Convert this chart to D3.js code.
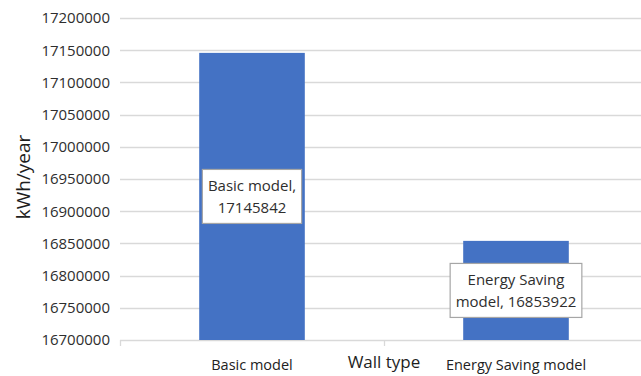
<!DOCTYPE html>
<html>
<head>
<meta charset="utf-8">
<script src="https://cdn.jsdelivr.net/npm/d3@7"></script>
<style>
  html, body { margin: 0; padding: 0; background: #fff; }
  svg { display: block; font-family: "Open Sans", "Liberation Sans", sans-serif; }
</style>
</head>
<body>
<svg id="chart" width="641" height="376"></svg>
<script>
// Annual energy use for the two wall types
const categories = ["Basic model", "Energy Saving model"];
const values = [17145842, 16853922];
const yTicks = [16700000, 16750000, 16800000, 16850000, 16900000, 16950000,
                17000000, 17050000, 17100000, 17150000, 17200000];
const yTitle = "kWh/year";
const xTitle = "Wall type";

const svg = d3.select("#chart");
const plot = { left: 120, right: 648, top: 18, bottom: 340 };

const x = d3.scaleBand()
  .domain(categories)
  .range([plot.left, plot.right])
  .paddingInner(0.6)
  .paddingOuter(0.3);

const y = d3.scaleLinear()
  .domain([yTicks[0], yTicks[yTicks.length - 1]])
  .range([plot.bottom, plot.top]);

const textColor = "#2e2e2e";
const gridColor = "#d9d9d9";

// horizontal gridlines
svg.append("g")
  .selectAll("line")
  .data(yTicks)
  .join("line")
  .attr("x1", plot.left)
  .attr("x2", plot.right)
  .attr("y1", d => Math.round(y(d)) + 0.5)
  .attr("y2", d => Math.round(y(d)) + 0.5)
  .attr("stroke", gridColor)
  .attr("stroke-width", 1.3);

// y axis labels
const yAxis = d3.axisLeft(y).tickValues(yTicks).tickSize(0).tickPadding(10)
  .tickFormat(d3.format("d"));
const gy = svg.append("g")
  .attr("transform", `translate(${plot.left},0)`)
  .call(yAxis);
gy.select(".domain").remove();
gy.selectAll("text")
  .attr("fill", textColor)
  .style("font-size", "15px")
  .style("font-weight", "500")
  .style("font-family", "'Open Sans', sans-serif");

// x axis: tick marks at the category boundaries
const tickXs = d3.range(categories.length + 1).map(i => plot.left + i * x.step());
svg.append("g")
  .selectAll("line")
  .data(tickXs)
  .join("line")
  .attr("x1", d => Math.round(d) + 0.5)
  .attr("x2", d => Math.round(d) + 0.5)
  .attr("y1", plot.bottom)
  .attr("y2", plot.bottom + 6)
  .attr("stroke", gridColor)
  .attr("stroke-width", 1.3);

// bars
svg.append("g")
  .selectAll("rect")
  .data(categories)
  .join("rect")
  .attr("x", d => x(d))
  .attr("width", x.bandwidth())
  .attr("y", (d, i) => y(values[i]))
  .attr("height", (d, i) => y(yTicks[0]) - y(values[i]))
  .attr("fill", "#4472C4");

// category labels
svg.append("g")
  .selectAll("text")
  .data(categories)
  .join("text")
  .attr("x", d => x(d) + x.bandwidth() / 2)
  .attr("y", 370)
  .attr("text-anchor", "middle")
  .attr("fill", "#222")
  .style("font-size", "14.5px")
  .style("font-weight", "500")
  .text(d => d);

// axis titles
svg.append("text")
  .attr("x", (plot.left + plot.right) / 2)
  .attr("y", 368)
  .attr("text-anchor", "middle")
  .attr("fill", "#1e1e1e")
  .style("font-size", "17px")
  .style("font-weight", "500")
  .text(xTitle);

svg.append("text")
  .attr("transform", `translate(30,${(plot.top + plot.bottom) / 2 - 2}) rotate(-90)`)
  .attr("text-anchor", "middle")
  .attr("fill", "#1e1e1e")
  .style("font-size", "19px")
  .style("font-weight", "500")
  .text(yTitle);

// data labels: white callout boxes centred on each bar
const labelLines = [
  [categories[0] + ",", String(values[0])],
  ["Energy Saving", "model, " + values[1]]
];
const lineGap = 22;
categories.forEach((c, i) => {
  const cx = x(c) + x.bandwidth() / 2;
  const cy = (y(values[i]) + y(yTicks[0])) / 2;
  const g = svg.append("g");
  const box = g.append("rect");
  const t = g.append("text")
    .attr("text-anchor", "middle")
    .attr("fill", textColor)
    .style("font-size", "15px")
    .style("font-weight", "500");
  labelLines[i].forEach((ln, k) => {
    t.append("tspan")
      .attr("x", cx)
      .attr("y", cy + (k - 0.5) * lineGap + 5.5)
      .text(ln);
  });
  const bb = t.node().getBBox();
  const bw = bb.width + 11, bh = 54;
  box.attr("x", cx - bw / 2)
    .attr("y", cy - bh / 2)
    .attr("width", bw)
    .attr("height", bh)
    .attr("fill", "#fff")
    .attr("stroke", "#a6a6a6")
    .attr("stroke-width", 1.2);
});
</script>
</body>
</html>
